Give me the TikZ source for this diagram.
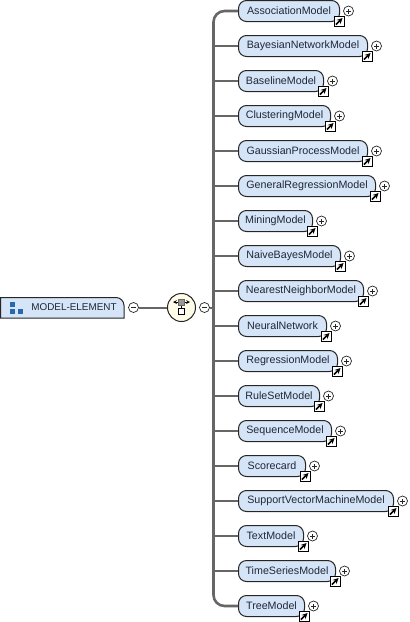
\documentclass[tikz,border=0pt]{standalone}
\usepackage{fontspec}
\setmainfont{Liberation Sans}
\definecolor{elemfill}{HTML}{D6E4F7}
\definecolor{elemtext}{HTML}{1E2838}
\definecolor{tileblue}{HTML}{2A68AE}
\definecolor{seqfill}{HTML}{FFFDE8}
\tikzset{
  wire/.style={draw=black!60, line width=2pt},
  spine/.style={wire, line width=2.6pt, rounded corners=11pt},
  elem/.style={rectangle, draw=black!85, fill=elemfill, line width=1pt, rounded corners=8pt,
    minimum height=21pt, inner sep=0pt, anchor=west, text=elemtext, font=\fontsize{10.7}{12}\selectfont,
    minimum width=#1},
  rootbox/.style={draw=black!85, fill=elemfill, line width=1pt},
  rootname/.style={inner sep=0pt, text=elemtext, font=\fontsize{9.9}{12}\selectfont},
  tile/.style={rectangle, fill=tileblue, inner sep=0pt, minimum size=5pt},
  toggle/.style={circle, draw=black!85, fill=white, line width=0.7pt, inner sep=0pt, minimum size=10pt},
  plus/.style={toggle, path picture={
      \draw[line width=0.7pt] (-2.5pt,0) -- (2.5pt,0) (0,-2.5pt) -- (0,2.5pt);}},
  minus/.style={toggle, path picture={
      \draw[line width=0.7pt] (-2.5pt,0) -- (2.5pt,0);}},
  badge/.style={rectangle, draw=black, fill=white, line width=1pt, inner sep=0pt, minimum size=10pt,
    path picture={\draw[line width=1.5pt, ->, >=stealth] (-3pt,-3pt) -- (3.5pt,3.5pt);}},
  seqbox/.style={circle, draw=black!85, fill=seqfill, line width=1pt, inner sep=0pt, minimum size=28pt},
  seqtop/.style={rectangle, draw=black!60, fill=black!40, line width=0.6pt, inner sep=0pt, minimum size=6pt},
  seqlow/.style={rectangle, draw=black, fill=white, line width=0.8pt, inner sep=0pt, minimum size=6pt},
  seqbar/.style={<->, >=stealth, line width=0.7pt},
}
\begin{document}
\begin{tikzpicture}[x=1pt, y=-1pt]
  \useasboundingbox (0,0) rectangle (410,622);

  % Wurzelelement
  \draw[rootbox] (0.5,318) -- (124,318) [rounded corners=8pt] -- (124,297.5) [sharp corners] -- (0.5,297.5) -- cycle;
  \node[rootname] (root) at (74,307.5) {MODEL-ELEMENT};
  \node[tile] (tilea) at (12.5,304.5) {};
  \node[tile] (tileb) at (12.5,311.5) {};
  \node[tile] (tilec) at (20,311.5) {};
  \node[minus] (rootminus) at (133.5,307.5) {};

  % Sequenz
  \node[seqbox] (seq) at (181.5,307.5) {};
  \node[minus] (seqminus) at (204.5,307.5) {};
  \coordinate (bus) at (213.5,307.5);
  \coordinate (seqa) at (181.5,302);
  \draw[wire] (rootminus) -- (seq);
  \draw[wire] (seqminus) -- (bus);
  \draw[seqbar] ([xshift=-8.5pt]seqa) -- ([xshift=8.5pt]seqa);
  \node[seqlow] (seqb) at (181.5,311.7) {};
  \draw[line width=0.8pt] (seqa) -- (seqb);
  \node[seqtop] (seqc) at (seqa) {};

  % Kindelemente
  \node[elem=101] (assoc)   at (238, 11) {AssociationModel};
  \node[elem=129] (bayes)   at (238, 46) {BayesianNetworkModel};
  \node[elem=85]  (base)    at (238, 81) {BaselineModel};
  \node[elem=92]  (cluster) at (238,116) {ClusteringModel};
  \node[elem=129] (gauss)   at (238,151) {GaussianProcessModel};
  \node[elem=137] (general) at (238,186) {GeneralRegressionModel};
  \node[elem=74]  (mining)  at (238,221) {MiningModel};
  \node[elem=102] (naive)   at (238,256) {NaiveBayesModel};
  \node[elem=125] (nearest) at (238,291) {NearestNeighborModel};
  \node[elem=88]  (neural)  at (238,326) {NeuralNetwork};
  \node[elem=99]  (regress) at (238,361) {RegressionModel};
  \node[elem=81]  (ruleset) at (238,396) {RuleSetModel};
  \node[elem=93]  (sequence) at (238,431) {SequenceModel};
  \node[elem=67]  (score)   at (238,466) {Scorecard};
  \node[elem=155] (support) at (238,501) {SupportVectorMachineModel};
  \node[elem=65]  (text)    at (238,536) {TextModel};
  \node[elem=97]  (times)   at (238,571) {TimeSeriesModel};
  \node[elem=66]  (tree)    at (238,606) {TreeModel};

  % Verweise
  \node[badge] (assocref)   at ([xshift=-1pt, yshift=0.5pt]assoc.south east) {};
  \node[badge] (bayesref)   at ([xshift=-1pt, yshift=0.5pt]bayes.south east) {};
  \node[badge] (baseref)    at ([xshift=-1pt, yshift=0.5pt]base.south east) {};
  \node[badge] (clusterref) at ([xshift=-1pt, yshift=0.5pt]cluster.south east) {};
  \node[badge] (gaussref)   at ([xshift=-1pt, yshift=0.5pt]gauss.south east) {};
  \node[badge] (generalref) at ([xshift=-1pt, yshift=0.5pt]general.south east) {};
  \node[badge] (miningref)  at ([xshift=-1pt, yshift=0.5pt]mining.south east) {};
  \node[badge] (naiveref)   at ([xshift=-1pt, yshift=0.5pt]naive.south east) {};
  \node[badge] (nearestref) at ([xshift=-1pt, yshift=0.5pt]nearest.south east) {};
  \node[badge] (neuralref)  at ([xshift=-1pt, yshift=0.5pt]neural.south east) {};
  \node[badge] (regressref) at ([xshift=-1pt, yshift=0.5pt]regress.south east) {};
  \node[badge] (rulesetref) at ([xshift=-1pt, yshift=0.5pt]ruleset.south east) {};
  \node[badge] (sequenceref) at ([xshift=-1pt, yshift=0.5pt]sequence.south east) {};
  \node[badge] (scoreref)   at ([xshift=-1pt, yshift=0.5pt]score.south east) {};
  \node[badge] (supportref) at ([xshift=-1pt, yshift=0.5pt]support.south east) {};
  \node[badge] (textref)    at ([xshift=-1pt, yshift=0.5pt]text.south east) {};
  \node[badge] (timesref)   at ([xshift=-1pt, yshift=0.5pt]times.south east) {};
  \node[badge] (treeref)    at ([xshift=-1pt, yshift=0.5pt]tree.south east) {};

  % Aufklappen
  \node[plus] (assocplus)   at ([xshift=8.5pt]assoc.east) {};
  \node[plus] (bayesplus)   at ([xshift=8.5pt]bayes.east) {};
  \node[plus] (baseplus)    at ([xshift=8.5pt]base.east) {};
  \node[plus] (clusterplus) at ([xshift=8.5pt]cluster.east) {};
  \node[plus] (gaussplus)   at ([xshift=8.5pt]gauss.east) {};
  \node[plus] (generalplus) at ([xshift=8.5pt]general.east) {};
  \node[plus] (miningplus)  at ([xshift=8.5pt]mining.east) {};
  \node[plus] (naiveplus)   at ([xshift=8.5pt]naive.east) {};
  \node[plus] (nearestplus) at ([xshift=8.5pt]nearest.east) {};
  \node[plus] (neuralplus)  at ([xshift=8.5pt]neural.east) {};
  \node[plus] (regressplus) at ([xshift=8.5pt]regress.east) {};
  \node[plus] (rulesetplus) at ([xshift=8.5pt]ruleset.east) {};
  \node[plus] (sequenceplus) at ([xshift=8.5pt]sequence.east) {};
  \node[plus] (scoreplus)   at ([xshift=8.5pt]score.east) {};
  \node[plus] (supportplus) at ([xshift=8.5pt]support.east) {};
  \node[plus] (textplus)    at ([xshift=8.5pt]text.east) {};
  \node[plus] (timesplus)   at ([xshift=8.5pt]times.east) {};
  \node[plus] (treeplus)    at ([xshift=8.5pt]tree.east) {};

  % Sammelschiene
  \draw[spine] (assoc.west) -| (bus) |- (tree.west);
  \draw[wire] (bus |- bayes.west) -- (bayes.west);
  \draw[wire] (bus |- base.west) -- (base.west);
  \draw[wire] (bus |- cluster.west) -- (cluster.west);
  \draw[wire] (bus |- gauss.west) -- (gauss.west);
  \draw[wire] (bus |- general.west) -- (general.west);
  \draw[wire] (bus |- mining.west) -- (mining.west);
  \draw[wire] (bus |- naive.west) -- (naive.west);
  \draw[wire] (bus |- nearest.west) -- (nearest.west);
  \draw[wire] (bus |- neural.west) -- (neural.west);
  \draw[wire] (bus |- regress.west) -- (regress.west);
  \draw[wire] (bus |- ruleset.west) -- (ruleset.west);
  \draw[wire] (bus |- sequence.west) -- (sequence.west);
  \draw[wire] (bus |- score.west) -- (score.west);
  \draw[wire] (bus |- support.west) -- (support.west);
  \draw[wire] (bus |- text.west) -- (text.west);
  \draw[wire] (bus |- times.west) -- (times.west);

\end{tikzpicture}
\end{document}
